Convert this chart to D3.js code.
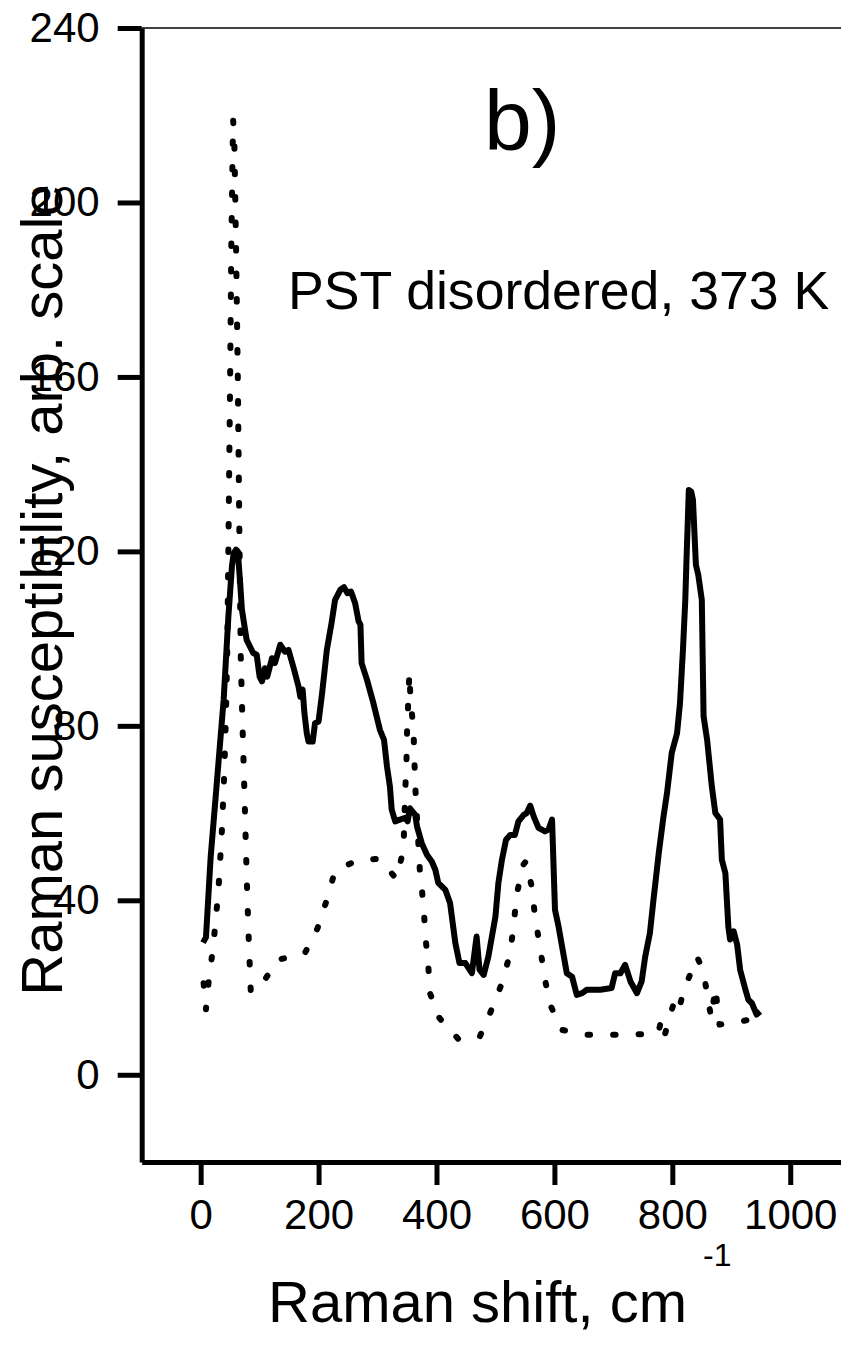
<!DOCTYPE html>
<html>
<head>
<meta charset="utf-8">
<script src="https://cdn.jsdelivr.net/npm/d3@7"></script>
<style>
  body { margin: 0; background: #fff; }
  svg { display: block; }
  text { font-family: "Liberation Sans", Arial, sans-serif; fill: #000; }
</style>
</head>
<body>
<div id="chart"></div>
<script>
// Raman shift (cm-1) and susceptibility, solid curve
var solidShift = [4, 9, 17, 25, 39, 47, 53, 56, 60, 63, 67, 70, 78, 89, 95, 100, 104, 109, 113, 121, 126, 135, 143, 149, 157, 166, 169, 173, 176, 180, 183, 190, 194, 200, 206, 214, 222, 228, 237, 243, 249, 255, 262, 268, 271, 273, 282, 293, 304, 311, 316, 321, 324, 330, 338, 347, 351, 355, 364, 367, 375, 384, 392, 398, 403, 415, 423, 432, 439, 449, 460, 468, 473, 480, 488, 500, 505, 511, 518, 525, 533, 539, 548, 553, 559, 565, 573, 584, 590, 596, 601, 607, 613, 621, 630, 638, 647, 655, 678, 697, 703, 712, 720, 729, 740, 748, 754, 762, 768, 777, 785, 791, 799, 808, 813, 818, 822, 824, 828, 832, 835, 840, 844, 850, 853, 859, 867, 873, 881, 884, 890, 895, 898, 904, 910, 915, 924, 929, 935, 943, 949];
var solidValue = [30.3, 31.5, 50, 63, 86, 105, 116.5, 119.6, 120.4, 120, 112.8, 106.6, 99.7, 96.7, 96.3, 91.3, 90.2, 93.2, 91.3, 95.5, 94.4, 98.6, 97, 97.4, 93.6, 89, 86.7, 88.3, 82.9, 78.3, 76.4, 76.4, 80.6, 81, 87.5, 97.4, 103.6, 108.9, 111.2, 111.8, 110.4, 110.8, 108.1, 103.9, 103.2, 94.4, 90.6, 85.2, 79.1, 76.8, 70.7, 66.1, 60.8, 58.1, 58.5, 58.9, 58.1, 61.1, 59.6, 56.9, 53.1, 50.4, 48.9, 47, 44, 42.4, 39.4, 30.2, 25.6, 25.6, 23.3, 31.7, 24.1, 22.9, 27.1, 36.3, 44, 49.3, 53.9, 55, 55, 58.1, 59.6, 60, 61.7, 59.2, 56.6, 55.8, 56.2, 58.5, 37.8, 34, 29.4, 23.3, 22.5, 18.3, 18.7, 19.5, 19.5, 19.9, 23.3, 23.3, 25.2, 21.4, 18.7, 21.4, 27.1, 32.5, 40.1, 50.8, 59.2, 64.6, 73.8, 78.3, 85.2, 97.4, 108.9, 117.9, 134.1, 133.7, 131.8, 116.9, 114.6, 108.9, 82.2, 76.8, 66.1, 60, 58.5, 49.3, 46.2, 34, 31, 32.9, 29.8, 24.1, 19.5, 17.2, 16.4, 13.8, 14.5];

// dotted curve
var dotShift = [5, 9, 14, 21, 30, 36, 40, 43, 45, 47, 50, 52, 55, 57, 60, 63, 66, 68, 71, 74, 78, 81, 85, 105, 131, 176, 198, 214, 228, 268, 303, 332, 344, 347, 349, 350, 354, 356, 361, 364, 372, 378, 381, 386, 389, 405, 437, 473, 492, 511, 525, 531, 536, 547, 552, 562, 567, 576, 583, 593, 612, 652, 703, 753, 776, 782, 788, 797, 805, 812, 820, 836, 842, 847, 856, 866, 873, 880, 905, 926, 948];
var dotValue = [21, 15, 22, 29, 42, 56, 69, 83, 96, 120, 160, 190, 219, 215, 190, 160, 120, 96, 80, 66, 46, 33, 19, 21, 26.4, 27.7, 33.5, 40.1, 46.8, 49.3, 49.5, 44.9, 51.6, 65.3, 71.5, 78.4, 92.1, 86, 79.1, 66.1, 46.3, 39, 32, 25.2, 18.7, 13, 8.2, 8.6, 14.5, 21, 27.9, 34.4, 41.3, 48.1, 49, 42.8, 36.3, 29, 22.5, 16, 10.3, 9.2, 9.2, 9.3, 9.5, 13, 9.5, 14, 17.5, 15.5, 19.5, 25, 27, 25.5, 21, 13, 20, 11.5, 12, 12.5, 14];

var xMajor = [0, 200, 400, 600, 800, 1000];
var xMinor = [-100, 100, 300, 500, 700, 900, 1100];
var yMajor = [0, 40, 80, 120, 160, 200, 240];
var yMinor = [-20, 20, 60, 100, 140, 180, 220];

var width = 841, height = 1354;
var x = d3.scaleLinear().domain([-100, 1100]).range([141.7, 849.2]);
var y = d3.scaleLinear().domain([-20, 240]).range([1162, 28]);

var svg = d3.select("#chart").append("svg")
    .attr("width", width)
    .attr("height", height);

// top frame line
svg.append("line")
    .attr("x1", x(-100)).attr("x2", x(1100))
    .attr("y1", y(240)).attr("y2", y(240))
    .attr("stroke", "#000").attr("stroke-width", 1.5);

// y axis
var yAxis = svg.append("g")
    .attr("transform", "translate(" + x(-100) + ",0)");
yAxis.call(d3.axisLeft(y).tickValues(yMinor).tickSize(12).tickSizeOuter(0).tickFormat(""));
yAxis.call(d3.axisLeft(y).tickValues(yMajor).tickSize(24).tickSizeOuter(0).tickPadding(18).tickFormat(d3.format("d")));
yAxis.selectAll("path, line").attr("stroke", "#000").attr("stroke-width", 5);
yAxis.selectAll("text")
    .attr("font-size", 42)
    .attr("font-family", "Liberation Sans, Arial, sans-serif");

// x axis
var xAxis = svg.append("g")
    .attr("transform", "translate(0," + y(-20) + ")");
xAxis.call(d3.axisBottom(x).tickValues(xMinor).tickSize(12).tickSizeOuter(0).tickFormat(""));
xAxis.call(d3.axisBottom(x).tickValues(xMajor).tickSize(23).tickSizeOuter(0).tickPadding(14).tickFormat(d3.format("d")));
xAxis.selectAll("path, line").attr("stroke", "#000").attr("stroke-width", 5);
xAxis.selectAll("text")
    .attr("font-size", 42)
    .attr("font-family", "Liberation Sans, Arial, sans-serif");

// curves
var solid = solidShift.map(function(d, i) { return [d, solidValue[i]]; });
var dotted = dotShift.map(function(d, i) { return [d, dotValue[i]]; });

var line = d3.line()
    .x(function(d) { return x(d[0]); })
    .y(function(d) { return y(d[1]); });

svg.append("path")
    .datum(dotted)
    .attr("fill", "none")
    .attr("stroke", "#000")
    .attr("stroke-width", 6)
    .attr("stroke-linecap", "round")
    .attr("stroke-linejoin", "round")
    .attr("stroke-dasharray", "2.5 23")
    .attr("d", line);

svg.append("path")
    .datum(solid)
    .attr("fill", "none")
    .attr("stroke", "#000")
    .attr("stroke-width", 6)
    .attr("stroke-linejoin", "round")
    .attr("d", line);

// labels
svg.append("text")
    .attr("x", 484).attr("y", 150)
    .attr("font-size", 86)
    .text("b)");

svg.append("text")
    .attr("x", 288).attr("y", 309)
    .attr("font-size", 53.6)
    .text("PST disordered, 373 K");

svg.append("text")
    .attr("transform", "translate(62,590) rotate(-90)")
    .attr("text-anchor", "middle")
    .attr("font-size", 58)
    .text("Raman susceptibility, arb. scale");

var xt = svg.append("text")
    .attr("x", 268).attr("y", 1322)
    .attr("font-size", 58);
xt.append("tspan").text("Raman shift, cm");
xt.append("tspan")
    .attr("font-size", 32)
    .attr("dx", 16)
    .attr("dy", -56)
    .text("-1");
</script>
</body>
</html>
